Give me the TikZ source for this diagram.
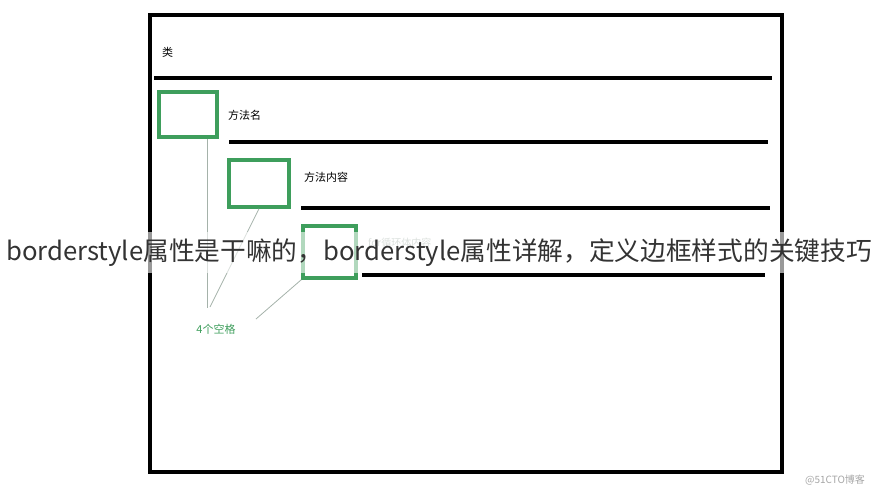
\documentclass[tikz,border=0pt]{standalone}
\usepackage{fontspec}
\setmainfont{Noto Sans CJK SC}
\usetikzlibrary{positioning}

\definecolor{boxgreen}{RGB}{62,158,92}
\definecolor{leadgray}{RGB}{165,178,170}

\begin{document}
\begin{tikzpicture}[x=1pt, y=-1pt, every node/.style={inner sep=0pt},
    spacebox/.style={draw=boxgreen, line width=3.5pt, fill=white},
    rule/.style={line width=3.5pt},
    lead/.style={draw=leadgray, line width=0.8pt},
    tag/.style={font=\fontsize{11}{11}\selectfont, anchor=west}]

\useasboundingbox (0,0) rectangle (879,490);

% ===== Define layout parameters =====
\def\xLeft{150}      % left edge of outer frame
\def\xRight{782}     % right edge of outer frame
\def\yTop{15}        % top edge of outer frame
\def\yBottom{472}    % bottom edge of outer frame

% ===== Outer frame =====
\draw[rule] (\xLeft,\yTop) rectangle (\xRight,\yBottom);

% ===== Separator lines =====
\foreach \xa/\xb/\y in {154/772/78, 229/768/142, 301/770/208, 362/765/275} {
    \draw[rule] (\xa,\y) -- (\xb,\y);
}

% ===== Indent boxes =====
\node[spacebox, minimum width=58pt, minimum height=45pt] (box1) at (188,114.5) {};
\node[spacebox, minimum width=60pt, minimum height=47pt] (box2) at (259,183.5) {};
\node[spacebox, minimum width=53pt, minimum height=52pt] (box3) at (329.5,252) {};

% ===== Labels =====
\node[tag] (cls) at (162,52) {类};
\node[tag] (mname) at (228,115) {方法名};
\node[tag] (mbody) at (304,177) {方法内容};
\node[tag, text=leadgray, font=\fontsize{10}{10}\selectfont] (loop) at (368,243) {for循环体内容};

% ===== Leader lines to the note =====
\coordinate (tip1) at (207,308);
\coordinate (tip2) at (210,307);
\coordinate (tip3) at (256,319);
\draw[lead] (box1.south -| tip1) -- (tip1);
\draw[lead] (box2.south) -- (tip2);
\draw[lead] (box3.south west) -- (tip3);
\node[text=boxgreen, font=\fontsize{11}{11}\selectfont] (note) at (216,329) {4个空格};

% ===== Title band =====
\fill[white, opacity=0.6] (0,232) rectangle (879,273);
\node[text=black!80, font=\fontsize{25.7}{25.7}\selectfont] (title) at (439,253)
    {borderstyle属性是干嘛的，borderstyle属性详解，定义边框样式的关键技巧};

% watermark
\node[text=black!35, font=\fontsize{10}{10}\selectfont] (mark) at (835,480) {@51CTO博客};

\end{tikzpicture}
\end{document}
